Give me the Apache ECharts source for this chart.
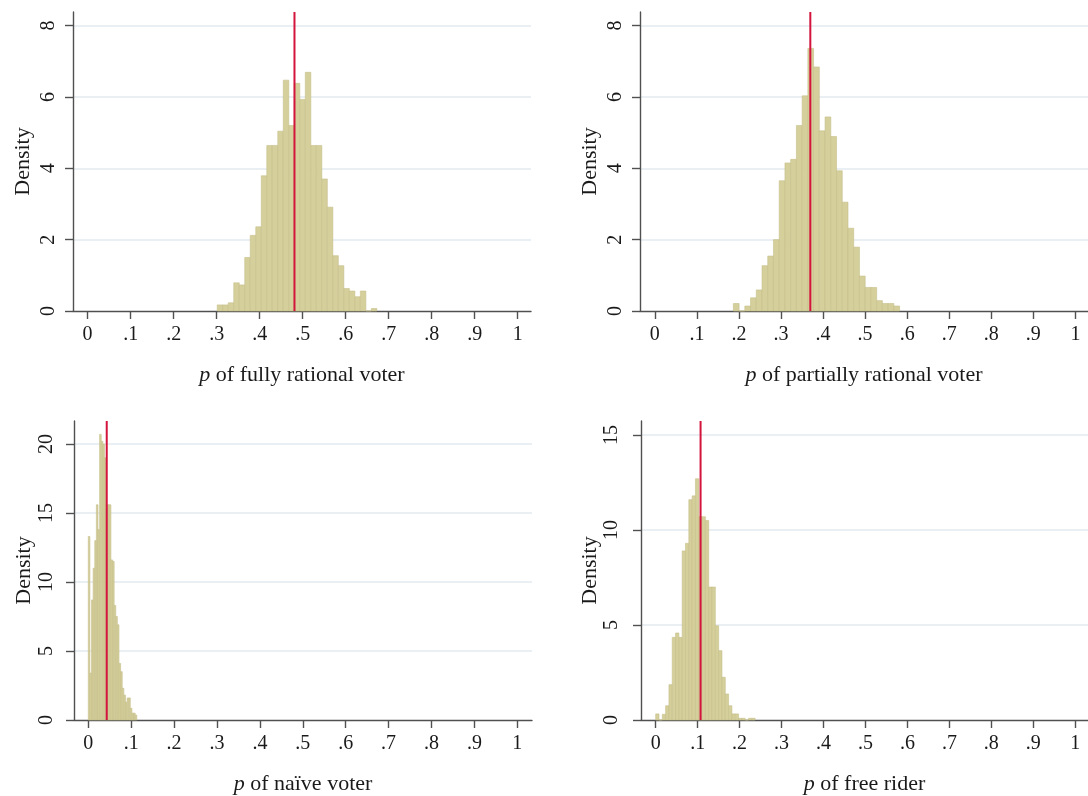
<!DOCTYPE html>
<html>
<head>
<meta charset="utf-8">
<script src="https://cdn.jsdelivr.net/npm/echarts@6/dist/echarts.min.js"></script>
<style>
html,body{margin:0;padding:0;background:#fff;}
#chart{width:1088px;height:796px;}
</style>
</head>
<body>
<div id="chart"></div>
<script>
// ---- data ----
const xTickValues = [0,0.1,0.2,0.3,0.4,0.5,0.6,0.7,0.8,0.9,1];
const xTickLabels = ['0','.1','.2','.3','.4','.5','.6','.7','.8','.9','1'];

// panel 1: fully rational voter
const p1Title = 'of fully rational voter';
const p1BinStart = 0.3014, p1BinWidth = 0.0128;
const p1Density = [0.17,0.17,0.23,0.79,0.73,1.5,2.12,2.36,3.79,4.64,4.64,5.04,6.47,5.2,6.38,5.93,6.69,4.64,4.64,3.7,2.91,1.55,1.27,0.63,0.56,0.40,0.56,0,0.07];
const p1Mark = 0.481;

// panel 2: partially rational voter
const p2Title = 'of partially rational voter';
const p2BinStart = 0.1867, p2BinWidth = 0.01363;
const p2Density = [0.21,0,0.14,0.37,0.59,1.27,1.54,2.0,3.65,4.15,4.25,5.2,6.03,7.36,6.84,5.05,5.44,4.89,3.93,3.05,2.32,1.79,0.98,0.66,0.66,0.29,0.21,0.21,0.14];
const p2Mark = 0.3697;

// panel 3: naive voter
const p3Title = 'of naïve voter';
const p3BinStart = 0.0, p3BinWidth = 0.00377;
const p3Density = [13.3,3.4,8.7,11.0,13.0,15.6,13.8,20.7,20.2,20.0,19.0,15.6,15.6,15.6,11.6,11.5,8.3,7.5,6.9,4.1,3.5,2.3,1.8,1.3,1.6,1.6,0.85,0.5,0.5,0.36];
const p3Mark = 0.043;

// panel 4: free rider
const p4Title = 'of free rider';
const p4BinStart = 0.0, p4BinWidth = 0.0079;
const p4Density = [0.32,0,0.3,0.75,1.86,4.35,4.58,4.35,8.9,9.3,11.6,11.8,12.7,10.7,10.7,10.5,7.0,7.0,4.96,3.65,2.25,1.37,0.75,0.32,0.32,0.09,0.09,0,0.09,0.09];
const p4Mark = 0.107;

// ---- styling / layout ----
const FONT = 'Liberation Serif';
const AXIS_COLOR = '#505050';
const TEXT_COLOR = '#1a1a1a';
const BAR_FILL = '#d5cf9c';
const BAR_STROKE = '#c6c08a';
const RED = '#d3143c';
const GRID_COLOR = '#e2eaee';

const panels = [
  {title:p1Title, start:p1BinStart, width:p1BinWidth, dens:p1Density, mark:p1Mark,
   grid:{left:73, top:12, width:458, height:299}, xmin:-0.034, xmax:1.031, ymax:8.38, yint:2, labMargin:14},
  {title:p2Title, start:p2BinStart, width:p2BinWidth, dens:p2Density, mark:p2Mark,
   grid:{left:640, top:12, width:456, height:299}, xmin:-0.0353, xmax:1.030, ymax:8.38, yint:2, labMargin:14},
  {title:p3Title, start:p3BinStart, width:p3BinWidth, dens:p3Density, mark:p3Mark,
   grid:{left:74, top:421, width:458, height:299}, xmin:-0.0333, xmax:1.0343, ymax:21.67, yint:5, labMargin:17},
  {title:p4Title, start:p4BinStart, width:p4BinWidth, dens:p4Density, mark:p4Mark,
   grid:{left:641, top:421, width:456, height:299}, xmin:-0.035, xmax:1.0304, ymax:15.74, yint:5, labMargin:19}
];

const grids = [], xAxes = [], yAxes = [], series = [];
panels.forEach((p, k) => {
  grids.push(Object.assign({containLabel:false}, p.grid));
  xAxes.push({
    type:'value', gridIndex:k, min:p.xmin, max:p.xmax,
    name:'{i|p} ' + p.title, nameLocation:'middle', nameGap:53,
    nameTextStyle:{fontFamily:FONT, fontSize:22, color:TEXT_COLOR,
      rich:{i:{fontFamily:FONT, fontSize:22, fontStyle:'italic', color:TEXT_COLOR}}},
    axisLine:{show:true, onZero:false, lineStyle:{color:AXIS_COLOR, width:1.4}},
    axisTick:{show:true, length:8, customValues:xTickValues, lineStyle:{color:AXIS_COLOR, width:1.4}},
    axisLabel:{customValues:xTickValues, margin:14, fontFamily:FONT, fontSize:20, color:TEXT_COLOR,
      formatter:(v)=>{ const i = xTickValues.findIndex(t=>Math.abs(t-v)<1e-9); return i>=0 ? xTickLabels[i] : ''; }},
    splitLine:{show:false}
  });
  yAxes.push({
    type:'value', gridIndex:k, min:0, max:p.ymax, interval:p.yint,
    name:'Density', nameLocation:'middle', nameGap:39, nameRotate:90,
    nameTextStyle:{fontFamily:FONT, fontSize:22, color:TEXT_COLOR},
    axisLine:{show:true, onZero:false, lineStyle:{color:AXIS_COLOR, width:1.4}},
    axisTick:{show:true, length:8, lineStyle:{color:AXIS_COLOR, width:1.4}},
    axisLabel:{rotate:90, margin:p.labMargin, fontFamily:FONT, fontSize:20, color:TEXT_COLOR,
      showMaxLabel:false, formatter:(v)=> (Math.abs(v - p.ymax) < 1e-6 ? '' : String(v))},
    splitLine:{show:true, showMinLine:false, showMaxLine:false, lineStyle:{color:GRID_COLOR, width:1.5}}
  });
  const data = p.dens.map((d,i)=>[p.start + i*p.width, p.start + (i+1)*p.width, d]);
  series.push({
    type:'custom', xAxisIndex:k, yAxisIndex:k, data:data, encode:{x:[0,1], y:2},
    renderItem:(params, api)=>{
      const a = api.coord([api.value(0), 0]);
      const b = api.coord([api.value(1), api.value(2)]);
      return {type:'rect', shape:{x:a[0], y:b[1], width:b[0]-a[0], height:a[1]-b[1]},
        style:{fill:BAR_FILL, stroke:BAR_STROKE, lineWidth:0.6}};
    },
    z:2
  });
  series.push({
    type:'line', xAxisIndex:k, yAxisIndex:k, data:[[p.mark,0],[p.mark,p.ymax]],
    showSymbol:false, symbol:'none', lineStyle:{color:RED, width:2}, z:5, silent:true
  });
});

const chart = echarts.init(document.getElementById('chart'), null, {renderer:'canvas'});
chart.setOption({
  animation:false, backgroundColor:'#ffffff',
  grid:grids, xAxis:xAxes, yAxis:yAxes, series:series
});
</script>
</body>
</html>
